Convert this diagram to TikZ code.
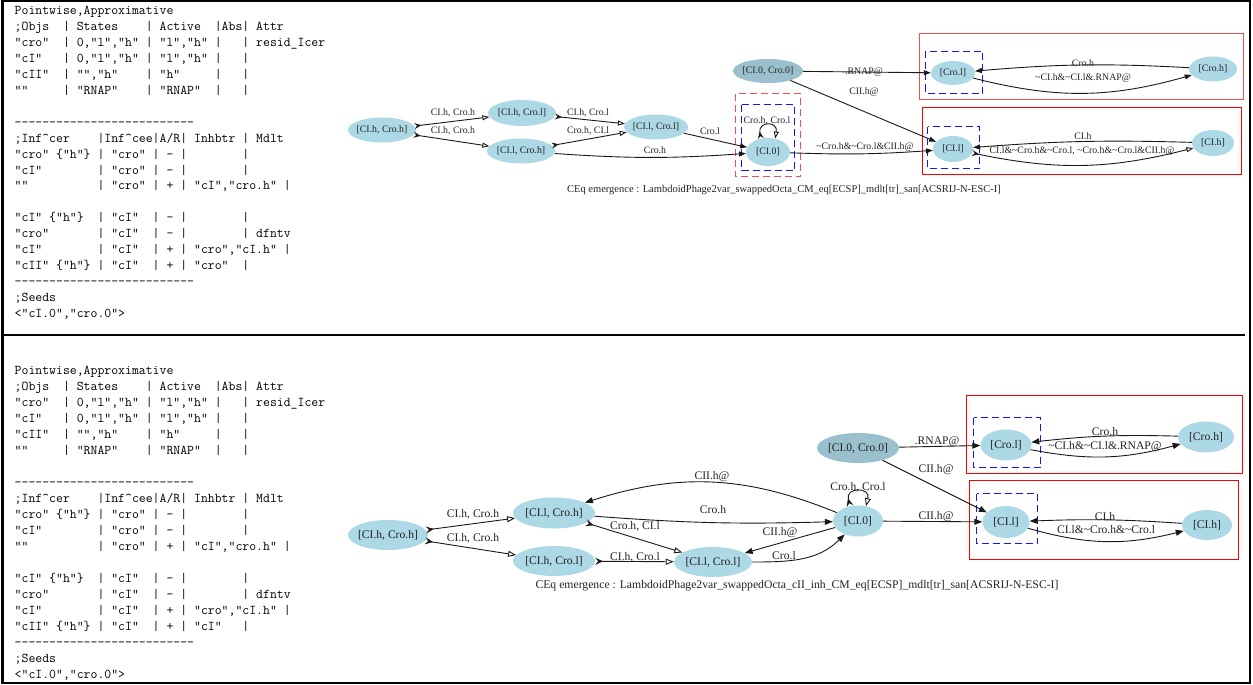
\documentclass[tikz,border=0pt]{standalone}
\usepackage{fontspec}
\setmainfont{Liberation Serif}
\usetikzlibrary{shapes.geometric,arrows.meta}
\definecolor{lb}{RGB}{173,216,230}
\definecolor{lbs}{RGB}{154,192,205}
\definecolor{txt}{RGB}{35,35,35}
\definecolor{lred}{RGB}{245,80,80}
\definecolor{pblue}{RGB}{20,20,255}
\definecolor{pred}{RGB}{255,0,0}
\newcommand\tld{\textasciitilde}
\newcommand\dsh{-\kern0pt}
\newcommand\dashrow{\dsh\dsh\dsh\dsh\dsh\dsh\dsh\dsh\dsh\dsh\dsh\dsh\dsh\dsh\dsh\dsh\dsh\dsh\dsh\dsh\dsh\dsh\dsh\dsh\dsh\dsh}
\newcommand\zw[1]{\makebox[0pt]{#1}}
\newcommand\crt{\textasciicircum}
\newcommand\tln[3]{\node[tline] (#1) at (14.5,-#2) {#3};}
\tikzset{
  tline/.style={anchor=base west, inner sep=0pt, font=\fontsize{13.4}{16}\ttfamily},
  ndA/.style={ellipse, fill=lb, inner sep=0pt, text=txt, font=\fontsize{9.8}{11}\selectfont},
  ndB/.style={ellipse, fill=lb, inner sep=0pt, text=txt, font=\fontsize{11.6}{13}\selectfont},
  lbA/.style={inner sep=0pt, text=txt, font=\fontsize{9.8}{11}\selectfont},
  lbB/.style={inner sep=0pt, text=txt, font=\fontsize{11.6}{13}\selectfont},
  conn/.style={draw=black!90, line width=0.9pt},
  fA/.style={conn, -{Triangle[length=7pt,width=5pt]}},
  oA/.style={conn, {Stealth[reversed,length=7pt,width=6pt,inset=2.5pt]}-{Triangle[open,length=7pt,width=5pt]}},
  fB/.style={conn, -{Triangle[length=8pt,width=6pt]}},
  oB/.style={conn, {Stealth[reversed,length=8pt,width=7pt,inset=3pt]}-{Triangle[open,length=8pt,width=6pt]}},
  clr/.style={draw=pred, line width=1.5pt},
  cll/.style={draw=lred, line width=1.5pt},
  clb/.style={draw=pblue, line width=1.5pt, dash pattern=on 7pt off 4pt},
  cld/.style={draw=lred, line width=1.5pt, dash pattern=on 7pt off 4pt},
}
\begin{document}
\begin{tikzpicture}[x=1pt,y=1pt]
\useasboundingbox (0,0) rectangle (1253,-685);
\fill[white] (0,0) rectangle (1253,-685);
% frame
\draw[line width=2pt] (2,-1.5) rectangle (1250,-683);
\draw[line width=3pt] (2.5,-0.5) -- (2.5,-684);
\draw[line width=2pt] (2,-335) -- (1245,-335);

% ---------- top text ----------
\tln{t0}{14.5}{Pointwise,Approximative}
\tln{t1}{30.45}{;Objs~~|~States~~~~|~Active~~|Abs|~Attr}
\tln{t2}{46.4}{"cro"~~|~0,"l","h"~|~"l","h"~|~~~|~resid\_Icer}
\tln{t3}{62.35}{"cI"~~~|~0,"l","h"~|~"l","h"~|~~~|}
\tln{t4}{78.3}{"cII"~~|~"","h"~~~~|~"h"~~~~~|~~~|}
\tln{t5}{94.25}{""~~~~~|~"RNAP"~~~~|~"RNAP"~~|~~~|}
\tln{t7}{126.15}{\dashrow}
\tln{t8}{142.1}{;Inf\crt cer~~~~|Inf\crt cee|A/R|~Inhbtr~|~Mdlt}
\tln{t9}{158.05}{"cro"~\{"h"\}~|~"cro"~|~-~|~~~~~~~~|}
\tln{t10}{174}{"cI"~~~~~~~~|~"cro"~|~-~|~~~~~~~~|}
\tln{t11}{189.95}{""~~~~~~~~~~|~"cro"~|~+~|~"cI","cro.h"~|}
\tln{t13}{221.85}{"cI"~\{"h"\}~~|~"cI"~~|~-~|~~~~~~~~|}
\tln{t14}{237.8}{"cro"~~~~~~~|~"cI"~~|~-~|~~~~~~~~|~dfntv}
\tln{t15}{253.75}{"cI"~~~~~~~~|~"cI"~~|~+~|~"cro","cI.h"~|}
\tln{t16}{269.7}{"cII"~\{"h"\}~|~"cI"~~|~+~|~"cro"~~|}
\tln{t17}{285.65}{\dashrow}
\tln{t18}{301.6}{;Seeds}
\tln{t19}{317.55}{<"cI.0","cro.0">}

% ---------- bottom text ----------
\tln{b0}{374.5}{Pointwise,Approximative}
\tln{b1}{390.5}{;Objs~~|~States~~~~|~Active~~|Abs|~Attr}
\tln{b2}{406.5}{"cro"~~|~0,"l","h"~|~"l","h"~|~~~|~resid\_Icer}
\tln{b3}{422.5}{"cI"~~~|~0,"l","h"~|~"l","h"~|~~~|}
\tln{b4}{438.5}{"cII"~~|~"","h"~~~~|~"h"~~~~~|~~~|}
\tln{b5}{454.5}{""~~~~~|~"RNAP"~~~~|~"RNAP"~~|~~~|}
\tln{b7}{486.5}{\dashrow}
\tln{b8}{502.5}{;Inf\crt cer~~~~|Inf\crt cee|A/R|~Inhbtr~|~Mdlt}
\tln{b9}{518.5}{"cro"~\{"h"\}~|~"cro"~|~-~|~~~~~~~~|}
\tln{b10}{534.5}{"cI"~~~~~~~~|~"cro"~|~-~|~~~~~~~~|}
\tln{b11}{550.5}{""~~~~~~~~~~|~"cro"~|~+~|~"cI","cro.h"~|}
\tln{b13}{582.5}{"cI"~\{"h"\}~~|~"cI"~~|~-~|~~~~~~~~|}
\tln{b14}{598.5}{"cro"~~~~~~~|~"cI"~~|~-~|~~~~~~~~|~dfntv}
\tln{b15}{614.5}{"cI"~~~~~~~~|~"cI"~~|~+~|~"cro","cI.h"~|}
\tln{b16}{630.5}{"cII"~\{"h"\}~|~"cI"~~|~+~|~"cI"~~~|}
\tln{b17}{646.5}{\dashrow}
\tln{b18}{662.5}{;Seeds}
\tln{b19}{678.5}{<"cI.0","cro.0">}

% ---------- top graph clusters ----------
\draw[cld] (735.5,-93.5) rectangle (800.5,-176.5);
\draw[clb] (741.5,-104.5) rectangle (794.5,-170.5);
\draw[cll] (919.5,-33.5) rectangle (1243.5,-99.5);
\draw[clb] (925.5,-51.5) rectangle (982.5,-93.5);
\draw[clr] (922.5,-107.5) rectangle (1241.5,-174.5);
\draw[clb] (927.5,-126.5) rectangle (979.5,-168.5);

% ---------- top graph nodes ----------
\node[ndA, minimum width=68pt, minimum height=25pt] (A1) at (382,-130) {\zw{[CI.h, Cro.h]}};
\node[ndA, minimum width=68pt, minimum height=26pt] (A2) at (522,-113) {\zw{[CI.h, Cro.l]}};
\node[ndA, minimum width=68pt, minimum height=25pt] (A3) at (521,-151) {\zw{[CI.l, Cro.h]}};
\node[ndA, minimum width=64pt, minimum height=25pt] (A4) at (656,-127) {\zw{[CI.l, Cro.l]}};
\node[ndA, minimum width=44pt, minimum height=28pt] (A5) at (768,-152) {\zw{[CI.0]}};
\node[ndA, fill=lbs, minimum width=70pt, minimum height=24pt] (S1) at (768,-71) {\zw{[CI.0, Cro.0]}};
\node[ndA, minimum width=44pt, minimum height=24pt] (C1) at (953,-73) {\zw{[Cro.l]}};
\node[ndA, minimum width=48pt, minimum height=25pt] (C2) at (1213,-69) {\zw{[Cro.h]}};
\node[ndA, minimum width=40pt, minimum height=26pt] (D1) at (953,-149) {\zw{[CI.l]}};
\node[ndA, minimum width=42pt, minimum height=26pt] (D2) at (1213,-143) {\zw{[CI.h]}};

% ---------- top graph edges ----------
\draw[oA] (A1) -- (A2) node[lbA, at={(453,-113)}] (la1) {CI.h, Cro.h};
\draw[oA] (A1) -- (A3) node[lbA, at={(453,-131)}] (la2) {CI.h, Cro.h};
\draw[oA] (A2) -- (A4) node[lbA, at={(588,-113)}] (la3) {CI.h, Cro.l};
\draw[oA] (A3) -- (A4) node[lbA, at={(588,-131)}] (la4) {Cro.h, CI.l};
\draw[fA] (A3) to[bend right=4] (A5);
\node[lbA] (la5) at (655,-150) {Cro.h};
\draw[fA] (A4) -- (A5) node[lbA, at={(710,-131)}] (la6) {Cro.l};
\draw[oA] (A5.118) .. controls +(100:18) and +(80:18) .. (A5.62);
\node[lbA] (la7) at (767,-121) {Cro.h, Cro.l};
\draw[fA] (S1) -- (C1) node[lbA, at={(864,-72)}] (la8) {.RNAP@};
\draw[fA] (S1) -- (D1) node[lbA, at={(864,-92)}] (la9) {CII.h@};
\draw[fA] (A5) to[bend right=3] (D1);
\node[lbA] (la10) at (865,-147) {\tld Cro.h\&\tld Cro.l\&CII.h@};
\draw[fA] (C2) to[bend right=4] (C1);
\node[lbA] (la11) at (1083,-63) {Cro.h};
\draw[fA] (C1) to[bend right=15] (C2);
\node[lbA] (la12) at (1083,-78) {\tld CI.h\&\tld CI.l\&.RNAP@};
\draw[fA] (D2) to[bend right=3] (D1);
\node[lbA] (la13) at (1083,-136) {CI.h};
\draw[oA] (D1) to[bend right=13] (D2);
\node[lbA] (la14) at (1082,-151.5) {CI.l\&\tld Cro.h\&\tld Cro.l, \tld Cro.h\&\tld Cro.l\&CII.h@};
\node[lbA, font=\fontsize{10.5}{12}\selectfont] (capA) at (784,-190) {CEq emergence : LambdoidPhage2var\_swappedOcta\_CM\_eq[ECSP]\_mdlt[tr]\_san[ACSRIJ-N-ESC-I]};

% ---------- bottom graph clusters ----------
\draw[clr] (966.5,-395.5) rectangle (1242.5,-473.5);
\draw[clb] (973.5,-417.5) rectangle (1040.5,-467.5);
\draw[clr] (969.5,-480.5) rectangle (1238.5,-559.5);
\draw[clb] (976.5,-493.5) rectangle (1037.5,-543.5);

% ---------- bottom graph nodes ----------
\node[ndB, minimum width=80pt, minimum height=30pt] (B1) at (388,-535) {\zw{[CI.h, Cro.h]}};
\node[ndB, minimum width=82pt, minimum height=31pt] (B2) at (554,-513) {\zw{[CI.l, Cro.h]}};
\node[ndB, minimum width=82pt, minimum height=30pt] (B3) at (554,-561) {\zw{[CI.h, Cro.l]}};
\node[ndB, minimum width=78pt, minimum height=30pt] (B4) at (713,-562) {\zw{[CI.l, Cro.l]}};
\node[ndB, minimum width=50pt, minimum height=31pt] (B5) at (858,-521) {\zw{[CI.0]}};
\node[ndB, fill=lbs, minimum width=82pt, minimum height=30pt] (S2) at (858,-448) {\zw{[CI.0, Cro.0]}};
\node[ndB, minimum width=51pt, minimum height=31pt] (E1) at (1006,-445) {\zw{[Cro.l]}};
\node[ndB, minimum width=56pt, minimum height=31pt] (E2) at (1206,-437) {\zw{[Cro.h]}};
\node[ndB, minimum width=47pt, minimum height=32pt] (F1) at (1006,-522) {\zw{[CI.l]}};
\node[ndB, minimum width=50pt, minimum height=30pt] (F2) at (1207,-525) {\zw{[CI.h]}};

% ---------- bottom graph edges ----------
\draw[oB] (B1) -- (B2) node[lbB, at={(473,-514)}] (lb1) {CI.h, Cro.h};
\draw[oB] (B1) -- (B3) node[lbB, at={(473,-538)}] (lb2) {CI.h, Cro.h};
\draw[fB] (B5) to[bend right=20] (B2);
\node[lbB] (lb3) at (712,-477) {CII.h@};
\draw[fB] (B2) to[bend right=3] (B5);
\node[lbB] (lb4) at (713,-510) {Cro.h};
\draw[oB] (B2) -- (B4) node[lbB, at={(635,-526)}] (lb5) {Cro.h, CI.l};
\draw[oB] (B3) -- (B4) node[lbB, at={(635,-557)}] (lb6) {CI.h, Cro.l};
\draw[fB] (B5) -- (B4) node[lbB, at={(780,-533)}] (lb7) {CII.h@};
\draw[fB] (B4) to[out=0,in=225] (B5);
\node[lbB] (lb8) at (784,-556) {Cro.l};
\draw[oB] (B5.118) .. controls +(105:20) and +(75:20) .. (B5.62);
\node[lbB] (lb9) at (858,-487) {Cro.h, Cro.l};
\draw[fB] (S2) -- (E1) node[lbB, at={(937,-442)}] (lb10) {.RNAP@};
\draw[fB] (S2) -- (F1) node[lbB, at={(936,-470)}] (lb11) {CII.h@};
\draw[fB] (B5) -- (F1) node[lbB, at={(936,-517)}] (lb12) {CII.h@};
\draw[fB] (E2) to[bend right=4] (E1);
\node[lbB] (lb13) at (1105,-432) {Cro.h};
\draw[fB] (E1) to[bend right=13] (E2);
\node[lbB] (lb14) at (1105,-447) {\tld CI.h\&\tld CI.l\&.RNAP@};
\draw[fB] (F2) to[bend right=3] (F1);
\node[lbB] (lb15) at (1105,-517) {CI.h};
\draw[fB] (F1) to[bend right=15] (F2);
\node[lbB] (lb16) at (1106,-530) {CI.l\&\tld Cro.h\&\tld Cro.l};
\node[lbB, font=\fontsize{11.7}{13}\selectfont] (capB) at (797,-586) {CEq emergence : LambdoidPhage2var\_swappedOcta\_cII\_inh\_CM\_eq[ECSP]\_mdlt[tr]\_san[ACSRIJ-N-ESC-I]};
\end{tikzpicture}
\end{document}
